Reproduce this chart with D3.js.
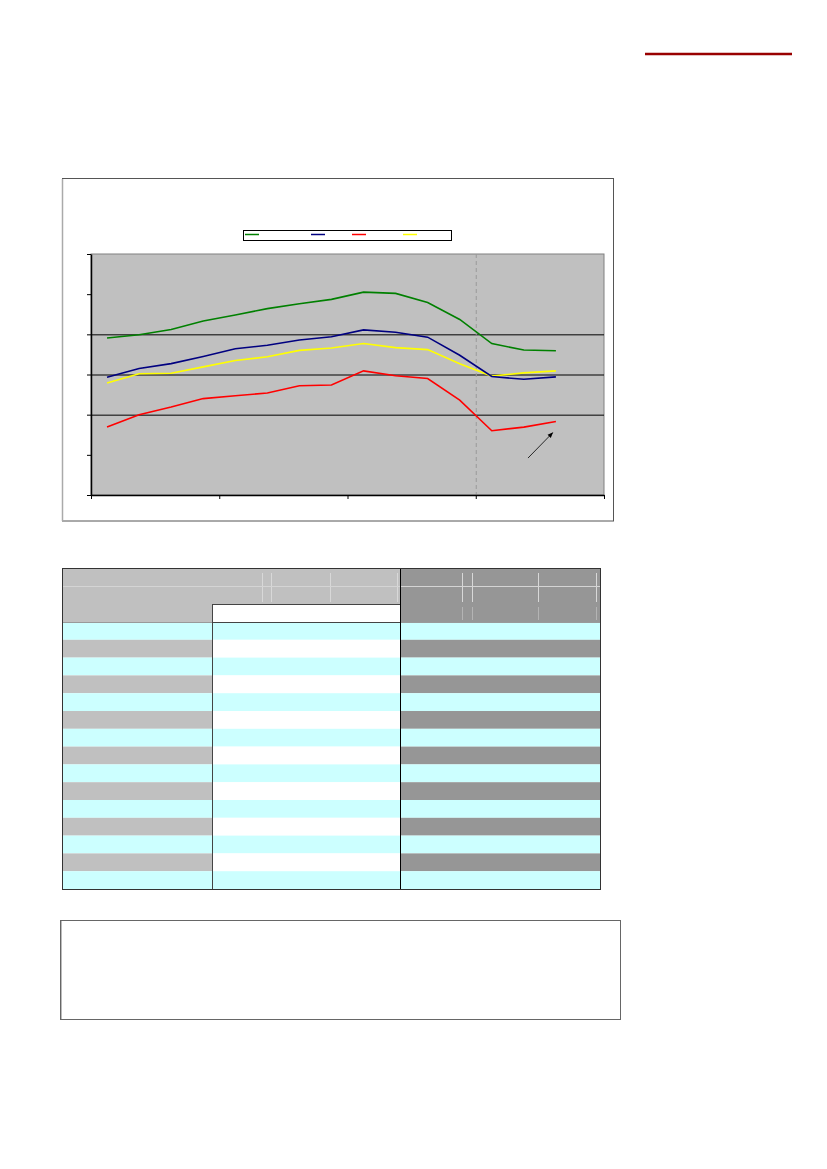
<!DOCTYPE html>
<html>
<head>
<meta charset="utf-8">
<script src="https://cdn.jsdelivr.net/npm/d3@7"></script>
<style>
  body { margin: 0; background: #fff; }
  svg { display: block; }
</style>
</head>
<body>
<svg id="page" width="827" height="1169"></svg>
<script>
// categories on the x axis (16 slots, last one has no value)
const categories = ["1","2","3","4","5","6","7","8","9","10","11","12","13","14","15","16"];
// series
const greenVals  = [3.91, 3.99, 4.12, 4.33, 4.48, 4.64, 4.76, 4.87, 5.05, 5.02, 4.79, 4.37, 3.77, 3.61, 3.59];
const blueVals   = [2.93, 3.15, 3.27, 3.45, 3.64, 3.73, 3.86, 3.94, 4.11, 4.05, 3.93, 3.48, 2.95, 2.88, 2.94];
const redVals    = [1.69, 2.00, 2.19, 2.40, 2.47, 2.54, 2.72, 2.74, 3.09, 2.97, 2.90, 2.36, 1.60, 1.69, 1.83];
const yellowVals = [2.79, 3.02, 3.03, 3.19, 3.35, 3.44, 3.60, 3.66, 3.77, 3.67, 3.62, 3.27, 2.96, 3.04, 3.09];
const yTicks = [0, 1, 2, 3, 4, 5, 6];
const xTicks = [0, 4, 8, 12, 16];
const gridAt = [2, 3, 4];
// table rows follow the data points
const tableRows = categories.slice(0, 15);

const svg = d3.select("#page");

// red rule top right
svg.append("line")
    .attr("x1", 645).attr("x2", 792).attr("y1", 54).attr("y2", 54)
    .attr("stroke", "#990000").attr("stroke-width", 2.5);

// chart frame
svg.append("rect").attr("x", 62.5).attr("y", 178.5).attr("width", 551).attr("height", 342.5)
    .attr("fill", "#fff").attr("stroke", "#555").attr("stroke-width", 1);
svg.append("line").attr("x1", 62.5).attr("x2", 62.5).attr("y1", 179).attr("y2", 521)
    .attr("stroke", "#aaa").attr("stroke-width", 1.5);

const x = d3.scaleLinear().domain([0, categories.length]).range([91, 604]);
const y = d3.scaleLinear().domain([0, 6]).range([495, 254]);

// plot area
svg.append("rect")
    .attr("x", x(0)).attr("y", y(6))
    .attr("width", x(16) - x(0)).attr("height", y(0) - y(6))
    .attr("fill", "#c0c0c0").attr("stroke", "#808080").attr("stroke-width", 1);

svg.selectAll(".grid").data(gridAt).enter().append("line")
    .attr("x1", x(0)).attr("x2", x(16))
    .attr("y1", d => y(d) + 0.5).attr("y2", d => y(d) + 0.5)
    .attr("stroke", "#000").attr("stroke-width", 1);

// dashed divider
svg.append("line")
    .attr("x1", x(12) + 0.5).attr("x2", x(12) + 0.5)
    .attr("y1", y(6)).attr("y2", y(0))
    .attr("stroke", "#999").attr("stroke-dasharray", "4,3");

// axes, no labels
const yAxis = svg.append("g").attr("transform", `translate(${x(0)},0)`)
    .call(d3.axisLeft(y).tickValues(yTicks).tickSize(4).tickSizeOuter(0).tickFormat(""));
const xAxis = svg.append("g").attr("transform", `translate(0,${y(0)})`)
    .call(d3.axisBottom(x).tickValues(xTicks).tickSize(4).tickSizeOuter(0).tickFormat(""));
[yAxis, xAxis].forEach(g => {
    g.select(".domain").attr("stroke", "#000").attr("stroke-width", 1.5);
    g.selectAll(".tick line").attr("stroke", "#000");
});

// lines
const line = d3.line().x((d, i) => x(i + 0.5)).y(d => y(d));
const series = [
    {vals: greenVals, color: "#008000"},
    {vals: yellowVals, color: "#ffff00"},
    {vals: blueVals, color: "#000080"},
    {vals: redVals, color: "#ff0000"}
];
svg.selectAll(".series").data(series).enter().append("path")
    .attr("d", d => line(d.vals))
    .attr("fill", "none")
    .attr("stroke", d => d.color)
    .attr("stroke-width", 1.6);

// arrow annotation
svg.append("defs").append("marker")
    .attr("id", "head").attr("viewBox", "0 0 10 10")
    .attr("refX", 9).attr("refY", 5).attr("markerWidth", 7).attr("markerHeight", 7)
    .attr("orient", "auto")
    .append("path").attr("d", "M0,1 L10,5 L0,9 z").attr("fill", "#000");
svg.append("line")
    .attr("x1", x(13.63)).attr("y1", y(0.92))
    .attr("x2", x(14.4)).attr("y2", y(1.55))
    .attr("stroke", "#000").attr("stroke-width", 0.8)
    .attr("marker-end", "url(#head)");

// legend
const legendItems = [
    {color: "#008000", x0: 245},
    {color: "#000080", x0: 311},
    {color: "#ff0000", x0: 352},
    {color: "#ffff00", x0: 403}
];
svg.append("rect").attr("x", 243.5).attr("y", 230.5).attr("width", 208).attr("height", 10)
    .attr("fill", "#fff").attr("stroke", "#000").attr("stroke-width", 1);
svg.selectAll(".leg").data(legendItems).enter().append("line")
    .attr("x1", d => d.x0).attr("x2", d => d.x0 + 14)
    .attr("y1", 234.5).attr("y2", 234.5)
    .attr("stroke", d => d.color).attr("stroke-width", 1.5);

// ---- table ----
const tX = [62, 212, 400, 600];
const headY = [568, 586, 604, 622];
const rowY = d3.scaleLinear().domain([0, tableRows.length]).range([622, 889]);
const grey = "#c0c0c0", dark = "#969696", cyan = "#ccffff";

const tbl = svg.append("g");
// header rows
tbl.append("rect").attr("x", tX[0]).attr("y", headY[0]).attr("width", tX[2] - tX[0]).attr("height", headY[3] - headY[0]).attr("fill", grey);
tbl.append("rect").attr("x", tX[2]).attr("y", headY[0]).attr("width", tX[3] - tX[2]).attr("height", headY[3] - headY[0]).attr("fill", dark);
tbl.append("rect").attr("x", tX[1]).attr("y", headY[2]).attr("width", tX[2] - tX[1]).attr("height", headY[3] - headY[2]).attr("fill", "#fff");

// data rows
const rows = tbl.selectAll(".row").data(tableRows).enter().append("g");
rows.each(function(d, i) {
    const g = d3.select(this);
    const y0 = rowY(i), h = rowY(i + 1) - rowY(i);
    if (i % 2 === 0) {
        g.append("rect").attr("x", tX[0]).attr("y", y0).attr("width", tX[3] - tX[0]).attr("height", h).attr("fill", cyan);
    } else {
        g.append("rect").attr("x", tX[0]).attr("y", y0).attr("width", tX[1] - tX[0]).attr("height", h).attr("fill", grey);
        g.append("rect").attr("x", tX[1]).attr("y", y0).attr("width", tX[2] - tX[1]).attr("height", h).attr("fill", "#fff");
        g.append("rect").attr("x", tX[2]).attr("y", y0).attr("width", tX[3] - tX[2]).attr("height", h).attr("fill", dark);
    }
});

// faint cell hints
const faintX = [262, 271, 330, 397, 462, 472, 538, 596];
tbl.selectAll(".fv").data(faintX).enter().append("line")
    .attr("x1", d => d + 0.5).attr("x2", d => d + 0.5)
    .attr("y1", headY[0] + 5).attr("y2", headY[2] - 2)
    .attr("stroke", "#d8d8d8").attr("stroke-width", 1);
tbl.append("line").attr("x1", tX[0]).attr("x2", tX[3]).attr("y1", headY[1] + 0.5).attr("y2", headY[1] + 0.5)
    .attr("stroke", "#d4d4d4");
tbl.selectAll(".fr").data(faintX.slice(4)).enter().append("line")
    .attr("x1", d => d + 0.5).attr("x2", d => d + 0.5)
    .attr("y1", headY[2] + 3).attr("y2", headY[3] - 2)
    .attr("stroke", "#b4b4b4");

// borders
tbl.append("line").attr("x1", tX[0]).attr("x2", tX[3]).attr("y1", headY[3] + 0.5).attr("y2", headY[3] + 0.5)
    .attr("stroke", "#999").attr("stroke-width", 1);
tbl.append("rect").attr("x", tX[1] + 0.5).attr("y", headY[2] + 0.5).attr("width", tX[2] - tX[1]).attr("height", headY[3] - headY[2])
    .attr("fill", "none").attr("stroke", "#444");
tbl.append("line").attr("x1", tX[1] + 0.5).attr("x2", tX[1] + 0.5).attr("y1", headY[2]).attr("y2", 889)
    .attr("stroke", "#444");
tbl.append("line").attr("x1", tX[2] + 0.5).attr("x2", tX[2] + 0.5).attr("y1", headY[0]).attr("y2", 889)
    .attr("stroke", "#000");
tbl.append("rect").attr("x", tX[0] + 0.5).attr("y", headY[0] + 0.5).attr("width", tX[3] - tX[0]).attr("height", 889 - headY[0])
    .attr("fill", "none").attr("stroke", "#333");

// note box
svg.append("rect").attr("x", 60.5).attr("y", 920.5).attr("width", 560).attr("height", 99)
    .attr("fill", "#fff").attr("stroke", "#666").attr("stroke-width", 1);
svg.append("line").attr("x1", 61.5).attr("x2", 61.5).attr("y1", 921).attr("y2", 1019)
    .attr("stroke", "#bbb");
</script>
</body>
</html>
